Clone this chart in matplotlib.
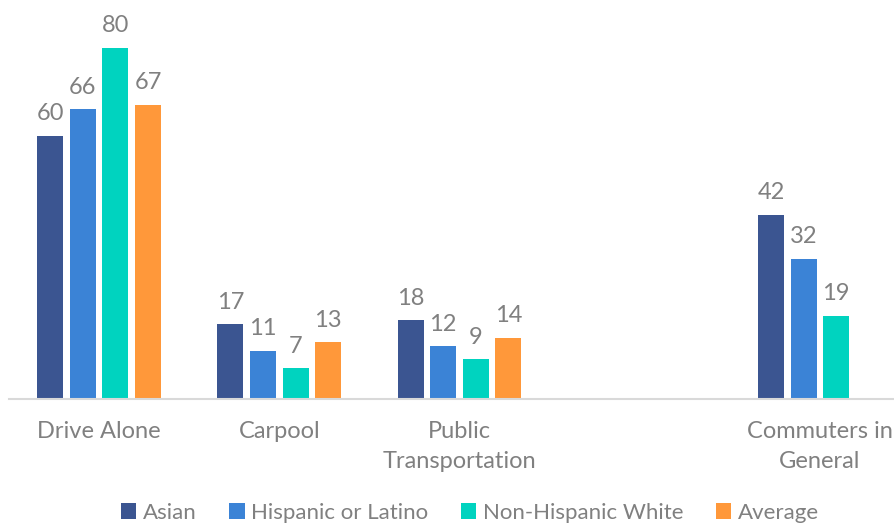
import numpy as np
import matplotlib.pyplot as plt

plt.rcParams['font.family'] = ['Lato', 'DejaVu Sans']

categories = ["Drive Alone", "Carpool", "Public\nTransportation", "", "Commuters in\nGeneral"]
asian = [60, 17, 18, np.nan, 42]
hispanic = [66, 11, 12, np.nan, 32]
nh_white = [80, 7, 9, np.nan, 19]
average = [67, 13, 14, np.nan, np.nan]

series = [("Asian", asian, "#3B5591"),
          ("Hispanic or Latino", hispanic, "#3B83D6"),
          ("Non-Hispanic White", nh_white, "#00D3BF"),
          ("Average", average, "#FF983A")]

fig = plt.figure(figsize=(8.95, 5.23), dpi=100)
ax = fig.add_axes([9 / 895, 124 / 523, 901 / 895, 399 / 523])

x = np.arange(len(categories))
pitch = 0.181
width = 0.145
text_col = "#808080"

for i, (name, vals, col) in enumerate(series):
    pos = x + (i - 1.5) * pitch
    vals = np.array(vals, dtype=float)
    ax.bar(pos, vals, width, color=col, label=name, edgecolor="none")
    for p, v in zip(pos, vals):
        if not np.isnan(v):
            ax.text(p, v + 2.6, f"{v:.0f}", ha="center", va="bottom",
                    fontsize=17, color=text_col)

ax.set_xlim(-0.5, len(categories) - 0.5)
ax.set_ylim(0, 90.9)
ax.set_xticks(x)
ax.set_xticklabels(categories, fontsize=17, color=text_col, linespacing=1.5)
ax.tick_params(axis="x", length=0, pad=16)
ax.set_yticks([])
for s in ["top", "right", "left"]:
    ax.spines[s].set_visible(False)
ax.spines["bottom"].set_color("#D9D9D9")
ax.spines["bottom"].set_linewidth(1.5)

leg = fig.legend(loc="lower center", bbox_to_anchor=(0.525, -0.038), ncol=4,
                 frameon=False, fontsize=16, handlelength=0.7, handleheight=0.7,
                 handletextpad=0.3, columnspacing=1.45)
for t in leg.get_texts():
    t.set_color(text_col)

fig.savefig("out.png", dpi=100)
